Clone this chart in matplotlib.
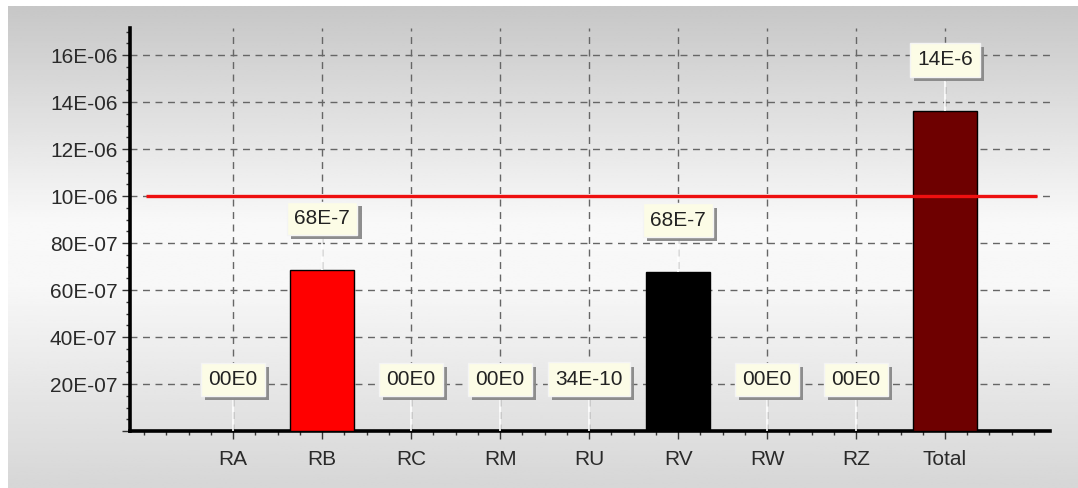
import numpy as np
import matplotlib
matplotlib.use("Agg")
import matplotlib.pyplot as plt
from matplotlib import patheffects as pe
from matplotlib.ticker import MultipleLocator

categories = ["RA", "RB", "RC", "RM", "RU", "RV", "RW", "RZ", "Total"]
values = [0.0, 6.85e-6, 0.0, 0.0, 3.4e-9, 6.77e-6, 0.0, 0.0, 13.6e-6]
value_labels = ["00E0", "68E-7", "00E0", "00E0", "34E-10", "68E-7", "00E0", "00E0", "14E-6"]
bar_colors = ["#ff0000", "#ff0000", "#ff0000", "#ff0000", "#ff0000", "#000000", "#ff0000", "#ff0000", "#6e0000"]
limit = 10e-6
ytick_labels = ["", "20E-07", "40E-07", "60E-07", "80E-07", "10E-06", "12E-06", "14E-06", "16E-06"]

plt.rcParams['font.family'] = ['Liberation Sans', 'DejaVu Sans']

fig = plt.figure(figsize=(10.78, 4.88), dpi=100)
fig.patch.set_facecolor("white")

# gradient background panel
bg = fig.add_axes([8 / 1078, 0, 1 - 8 / 1078, 1 - 6 / 488])
bg.set_axis_off()
ys = np.linspace(0, 1, 200)
shade = np.interp(ys, [0.0, 0.42, 0.55, 1.0], [0.84, 0.97, 0.975, 0.78])
grad = np.repeat(shade[:, None], 2, axis=1)
bg.imshow(grad, cmap="gray", vmin=0, vmax=1, aspect="auto", origin="lower",
          extent=[0, 1, 0, 1])

ax = fig.add_axes([130 / 1078, 1 - 431 / 488, (1050 - 130) / 1078, (431 - 28) / 488])
ax.patch.set_alpha(0)

x = np.arange(len(categories))
ax.bar(x, values, width=0.72, color=bar_colors, edgecolor="black", linewidth=1, zorder=3)

ax.hlines(limit, -0.98, len(categories) - 1 + 1.03, color="#ee1010", linewidth=2.4, zorder=4)

ax.set_xlim(-1.16, len(categories) - 1 + 1.18)
ax.set_ylim(0, 17.15e-6)

ax.set_xticks(x)
ax.set_xticklabels(categories)
ax.xaxis.set_minor_locator(MultipleLocator(0.25))
ax.set_yticks(np.arange(len(ytick_labels)) * 2e-6)
ax.set_yticklabels(ytick_labels)
ax.yaxis.set_minor_locator(MultipleLocator(0.5e-6))

ax.tick_params(axis="both", which="major", labelsize=15, labelcolor="#2a2a2a", color="#333333",
               length=6, width=1, pad=3)
ax.tick_params(axis="both", which="minor", length=3, width=1, color="#333333")
ax.tick_params(axis="x", pad=8)

ax.grid(True, which="major", color="#666666", linestyle=(0, (5, 4)), linewidth=1, zorder=0)
ax.set_axisbelow(True)

for s in ["top", "right"]:
    ax.spines[s].set_visible(False)
for s in ["left", "bottom"]:
    ax.spines[s].set_linewidth(2.6)
    ax.spines[s].set_color("black")

offset = 2.2e-6
for xi, v, lab in zip(x, values, value_labels):
    ax.vlines(xi, v, v + offset, color="white", linewidth=1.2, zorder=4)
    t = ax.text(xi, v + offset, lab, ha="center", va="center", fontsize=15, color="#222222", zorder=6,
                bbox=dict(boxstyle="square,pad=0.35", facecolor="#fcfce6", edgecolor="#f4f4f4", linewidth=1))
    t.get_bbox_patch().set_path_effects([
        pe.SimplePatchShadow(offset=(3, -3), shadow_rgbFace="#888888", alpha=0.95),
        pe.Normal()])

fig.savefig("out.png", dpi=100)
